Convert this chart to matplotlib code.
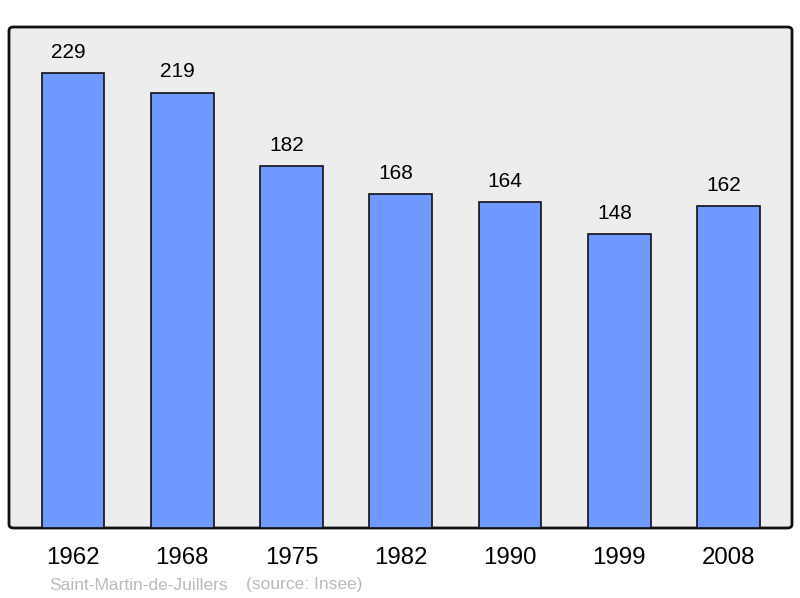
import matplotlib
matplotlib.use('Agg')
import matplotlib.pyplot as plt
from matplotlib.patches import FancyBboxPatch

years = ['1962', '1968', '1975', '1982', '1990', '1999', '2008']
population = [229, 219, 182, 168, 164, 148, 162]
town = 'Saint-Martin-de-Juillers'
source = '(source: Insee)'

plt.rcParams['font.family'] = ['Liberation Sans', 'DejaVu Sans']

fig = plt.figure(figsize=(8, 5.98), dpi=100)
ax = fig.add_axes([9/800, 70/598, 783/800, 501/598])
ax.set_facecolor('none')

# rounded grey frame behind the bars
frame = FancyBboxPatch((9/800, 70/598), 783/800, 501/598,
                       boxstyle='round,pad=0,rounding_size=0.006',
                       transform=fig.transFigure, facecolor='#ededed',
                       edgecolor='#111111', linewidth=2, zorder=-1)
fig.patches.append(frame)

x = range(len(years))
ax.bar(x, population, width=0.575, color='#7099ff', edgecolor='#111111',
       linewidth=1.2, zorder=2)
for i, v in zip(x, population):
    ax.annotate(str(v), (i, v), xytext=(-3.5, 8), textcoords='offset points',
                ha='center', va='bottom', fontsize=15)

ax.set_xlim(-0.585, 6.58)
ax.set_ylim(0, 252)
ax.set_xticks(list(x))
ax.set_xticklabels(years, fontsize=17.3)
ax.tick_params(axis='x', length=0, pad=14)
ax.set_yticks([])
for s in ax.spines.values():
    s.set_visible(False)

fig.text(49/800, 1 - 585/598, town, color='#bbbbbb', fontsize=12.5, va='center')
fig.text(246/800, 1 - 585/598, source, color='#bbbbbb', fontsize=12.5, va='center')

fig.savefig('out.png', dpi=100)
plt.close()
